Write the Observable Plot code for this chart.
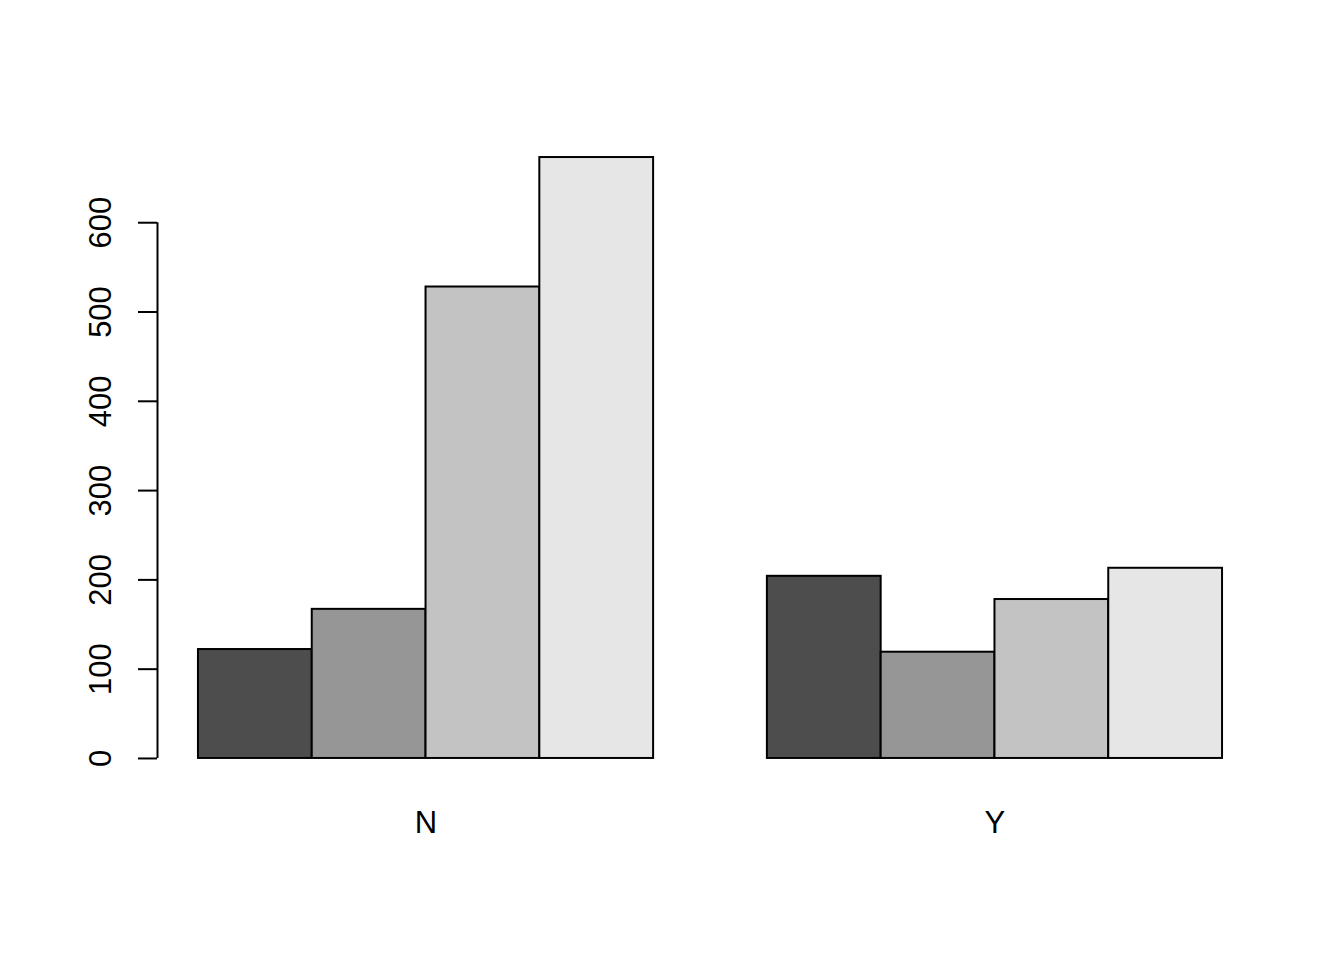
<!DOCTYPE html>
<html>
<head>
<meta charset="utf-8">
<script src="https://cdn.jsdelivr.net/npm/d3@7"></script>
<script src="https://cdn.jsdelivr.net/npm/@observablehq/plot@0.6"></script>
<style>
  html, body { margin: 0; padding: 0; background: #ffffff; }
  #chart svg { display: block; }
</style>
</head>
<body>
<div id="chart"></div>
<script>
// Data
const groups = ["N", "Y"];
const members = ["1", "2", "3", "4"];
const valuesN = [122, 167, 528, 673];
const valuesY = [204, 119, 178, 213];
const yTicks = [0, 100, 200, 300, 400, 500, 600];
const fills = ["#4D4D4D", "#969696", "#C3C3C3", "#E6E6E6"];

// R barplot(beside=TRUE) layout: bar width 1, space 0 within a group, 1 between groups
const seriesByGroup = [valuesN, valuesY];
const rows = [];
groups.forEach((g, gi) => {
  members.forEach((m, mi) => {
    const left = 1 + gi * (members.length + 1) + mi;
    rows.push({group: g, member: m, value: seriesByGroup[gi][mi], x1: left, x2: left + 1});
  });
});
const groupCenters = groups.map((g, gi) => 1 + gi * (members.length + 1) + members.length / 2);

const xMin = 1, xMax = 1 + groups.length * (members.length + 1) - 1;
const xPad = (xMax - xMin) * 0.04;
const yMax = d3.max(rows, d => d.value);
const yPad = yMax * 0.04;
const xDomain = [xMin - xPad, xMax + xPad];

const chart = Plot.plot({
  width: 1344,
  height: 960,
  marginLeft: 157,
  marginRight: 81,
  marginTop: 133,
  marginBottom: 178,
  style: {fontFamily: "'Liberation Sans', Arial, sans-serif", background: "#ffffff", color: "black"},
  x: {type: "linear", domain: xDomain, axis: null},
  y: {domain: [-yPad, yMax + yPad], axis: null},
  color: {type: "ordinal", domain: members, range: fills},
  marks: [
    Plot.rectY(rows, {x1: "x1", x2: "x2", y1: 0, y2: "value", fill: "member", stroke: "black", strokeWidth: 2}),
    Plot.ruleX([xDomain[0]], {y1: 0, y2: d3.max(yTicks), stroke: "black", strokeWidth: 2}),
    Plot.axisY({ticks: yTicks, tickSize: 19, tickFormat: () => "", stroke: "black", strokeWidth: 2, label: null}),
    Plot.text(yTicks, {y: d => d, text: d => String(d), frameAnchor: "left", rotate: -90, dx: -56, textAnchor: "middle", lineAnchor: "middle", fontSize: 31, fill: "black"}),
    Plot.axisX({ticks: groupCenters, tickFormat: (d, i) => groups[i], tickSize: 0, tickPadding: 28, fontSize: 31, label: null})
  ]
});
document.getElementById("chart").appendChild(chart);
</script>
</body>
</html>
